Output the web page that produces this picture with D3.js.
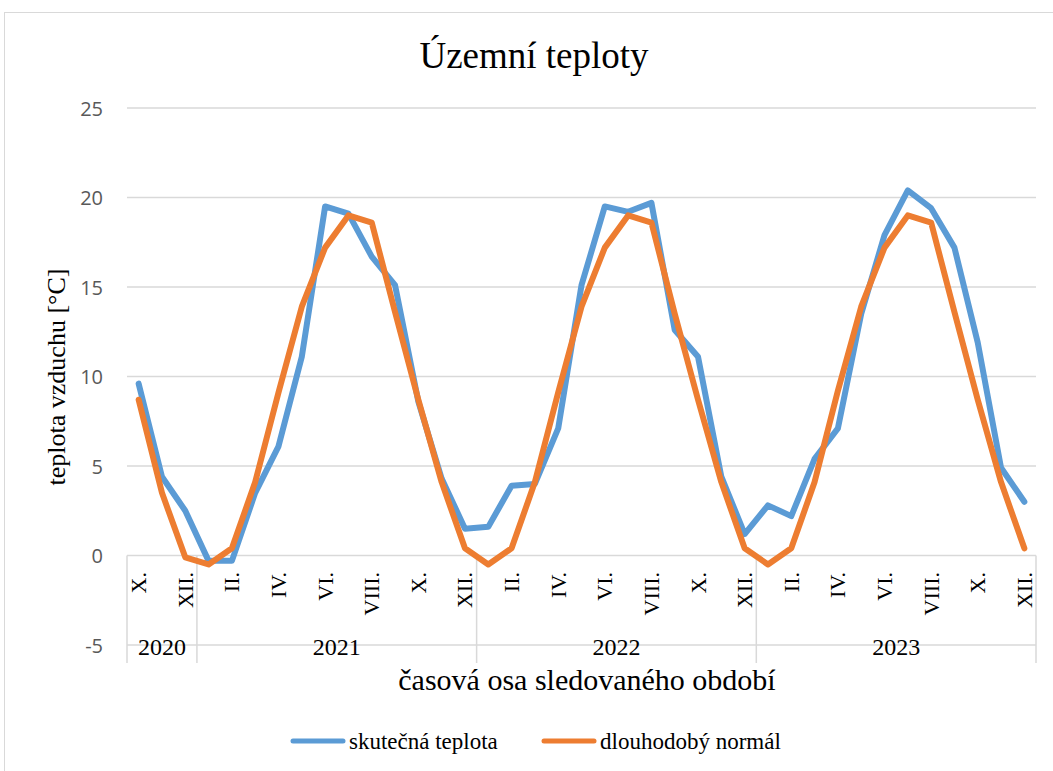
<!DOCTYPE html>
<html><head><meta charset="utf-8">
<script src="https://cdn.jsdelivr.net/npm/d3@7"></script>
<style>body{margin:0;background:#fff}svg{display:block}</style>
</head><body>
<svg id="c" width="1053" height="771"></svg>
<script>
// months Oct 2020 .. Dec 2023
const monthLabels = ["X.","XI.","XII.","I.","II.","III.","IV.","V.","VI.","VII.","VIII.","IX.","X.","XI.","XII.","I.","II.","III.","IV.","V.","VI.","VII.","VIII.","IX.","X.","XI.","XII.","I.","II.","III.","IV.","V.","VI.","VII.","VIII.","IX.","X.","XI.","XII."];
const years = [{label:"2020", count:3},{label:"2021", count:12},{label:"2022", count:12},{label:"2023", count:12}];
const actual = [9.6,4.4,2.5,-0.3,-0.3,3.5,6.1,11.1,19.5,19.1,16.7,15.1,
                8.6,4.3,1.5,1.6,3.9,4.0,7.1,15.1,19.5,19.2,19.7,12.6,
                11.1,4.4,1.2,2.8,2.2,5.4,7.1,13.5,17.9,20.4,19.4,17.2,
                11.9,4.9,3.0];
const normal = [8.7,3.5,-0.1,-0.5,0.4,4.1,9.1,13.9,17.2,19.0,18.6,13.6,
                8.7,4.1,0.4,-0.5,0.4,4.1,9.1,13.9,17.2,19.0,18.6,13.5,
                8.7,4.1,0.4,-0.5,0.4,4.1,9.2,13.9,17.2,19.0,18.6,13.6,
                8.7,4.1,0.4];
const yTicks = [-5,0,5,10,15,20,25];
const seriesNames = ["skutečná teplota","dlouhodobý normál"];
const colors = ["#5B9BD5","#ED7D31"];

const svg = d3.select("#c");
const serif = "'Liberation Serif','Times New Roman',serif";
const grid = "#D9D9D9";

svg.append("rect").attr("x",4.5).attr("y",12.5).attr("width",1100).attr("height",800)
  .attr("fill","#fff").attr("stroke",grid).attr("stroke-width",1);

const idx = d3.range(monthLabels.length);
const x = d3.scaleBand().domain(idx).range([127,1036]);
const y = d3.scaleLinear().domain([-5,25]).range([645,108]);
const cx = i => x(i) + x.bandwidth()/2;

// gridlines
svg.append("g").selectAll("line").data(yTicks).join("line")
  .attr("x1",127).attr("x2",1036).attr("y1",d=>y(d)).attr("y2",d=>y(d))
  .attr("stroke",grid).attr("stroke-width",1.5);

// y tick labels
svg.append("g").selectAll("text").data(yTicks).join("text")
  .attr("x",103).attr("y",d=>y(d)).attr("text-anchor","end").attr("dominant-baseline","central")
  .attr("font-family","'Open Sans','Noto Sans',sans-serif").attr("font-size",20).attr("fill","#595959")
  .text(d=>d);

// group separators
let bounds = [0]; let acc = 0;
years.forEach(g=>{acc+=g.count; bounds.push(acc);});
const bx = b => b===monthLabels.length ? 1036 : x(b);
svg.append("g").selectAll("line").data(bounds).join("line")
  .attr("x1",bx).attr("x2",bx)
  .attr("y1",y(0)).attr("y2",663).attr("stroke",grid).attr("stroke-width",1.5);

// month labels (every second)
svg.append("g").selectAll("text").data(idx.filter(i=>i%2===0)).join("text")
  .attr("transform",i=>`translate(${cx(i)},572) rotate(-90)`)
  .attr("text-anchor","end").attr("dominant-baseline","central")
  .attr("font-family",serif).attr("font-size",22).attr("fill","#000")
  .text(i=>monthLabels[i]);

// year labels
svg.append("g").selectAll("text").data(years).join("text")
  .attr("x",(g,k)=> (bx(bounds[k]) + bx(bounds[k+1]))/2)
  .attr("y",655).attr("text-anchor","middle")
  .attr("font-family",serif).attr("font-size",24).attr("fill","#000")
  .text(g=>g.label);

// lines
const line = d3.line().x((d,i)=>cx(i)).y(d=>y(d));
[actual, normal].forEach((s,k)=>{
  svg.append("path").datum(s).attr("d",line).attr("fill","none")
    .attr("stroke",colors[k]).attr("stroke-width",6)
    .attr("stroke-linejoin","round").attr("stroke-linecap","round");
});

// title
svg.append("text").attr("x",534).attr("y",68).attr("text-anchor","middle")
  .attr("font-family",serif).attr("font-size",37).attr("fill","#000").text("Územní teploty");

// axis titles
svg.append("text").attr("transform","translate(65,377) rotate(-90)").attr("text-anchor","middle")
  .attr("font-family",serif).attr("font-size",26).attr("fill","#000").text("teplota vzduchu [°C]");
svg.append("text").attr("x",587).attr("y",690).attr("text-anchor","middle")
  .attr("font-family",serif).attr("font-size",30).attr("fill","#000").text("časová osa sledovaného období");

// legend
const legX = [290, 541];
seriesNames.forEach((n,k)=>{
  svg.append("line").attr("x1",legX[k]+3).attr("x2",legX[k]+53).attr("y1",741).attr("y2",741)
    .attr("stroke",colors[k]).attr("stroke-width",5).attr("stroke-linecap","round");
  svg.append("text").attr("x",legX[k]+59).attr("y",741).attr("dominant-baseline","central")
    .attr("font-family",serif).attr("font-size",23).attr("fill","#000").text(n);
});
</script>
</body></html>
